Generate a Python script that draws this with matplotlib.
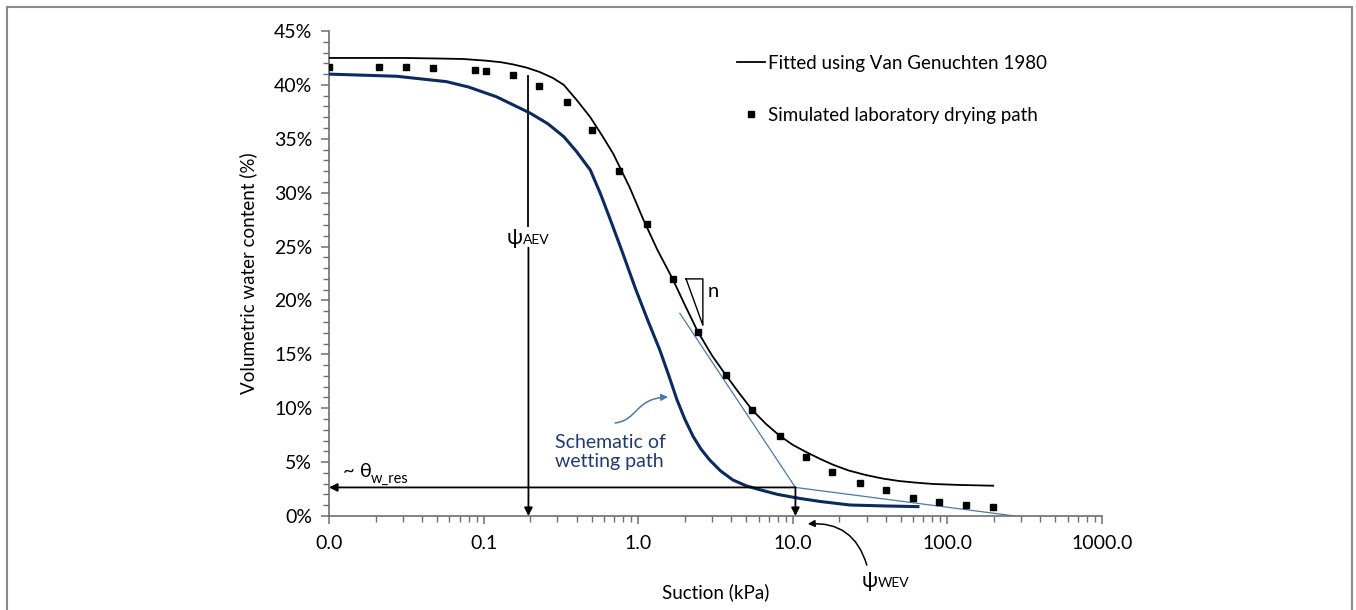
import matplotlib
matplotlib.use("Agg")
import matplotlib.pyplot as plt
from matplotlib.lines import Line2D
from matplotlib.patches import FancyArrowPatch, Rectangle
from matplotlib.path import Path
from matplotlib.ticker import FixedLocator, FuncFormatter, MultipleLocator, LogLocator, NullFormatter

plt.rcParams['font.family'] = ['Lato', 'DejaVu Sans']

# simulated laboratory drying path (suction kPa, volumetric water content %)
suction_lab = [0.01, 0.0211, 0.0315, 0.0473, 0.0884, 0.103, 0.155, 0.229, 0.344, 0.505,
               0.751, 1.135, 1.67, 2.43, 3.68, 5.47, 8.26, 12.1, 18.0, 27.2,
               40.1, 60.2, 88.7, 131, 198]
theta_lab = [41.7, 41.7, 41.7, 41.6, 41.4, 41.3, 40.9, 39.9, 38.4, 35.8,
             32.0, 27.1, 22.0, 17.1, 13.1, 9.8, 7.4, 5.5, 4.1, 3.1,
             2.4, 1.7, 1.3, 1.0, 0.8]

# Van Genuchten fit
suction_fit = [0.01, 0.03, 0.05, 0.074, 0.103, 0.13, 0.155, 0.19, 0.23, 0.28, 0.33, 0.40,
               0.49, 0.59, 0.69, 0.88, 1.08, 1.33, 1.67, 2.0, 2.43, 3.0, 3.68, 4.5,
               5.47, 6.7, 8.26, 10.0, 12.1, 15.0, 18.4, 23.0, 29.7, 38.0, 48.4, 62.0,
               81, 120, 198]
theta_fit = [42.5, 42.5, 42.45, 42.4, 42.25, 42.1, 41.9, 41.6, 41.2, 40.65, 40.0, 38.6,
             37.0, 35.2, 33.6, 30.5, 27.5, 24.7, 22.0, 19.6, 17.1, 14.9, 13.1, 11.4,
             9.83, 8.55, 7.42, 6.6, 5.96, 5.3, 4.73, 4.22, 3.8, 3.48, 3.25, 3.1,
             2.97, 2.88, 2.81]

# schematic wetting path
suction_wet = [0.01, 0.0274, 0.0576, 0.08, 0.121, 0.199, 0.26, 0.33, 0.40, 0.49, 0.57,
               0.66, 0.78, 0.96, 1.15, 1.38, 1.58, 1.78, 2.0, 2.27, 2.55, 2.9, 3.4,
               4.1, 5.0, 6.0, 8.0, 11.0, 15.0, 23.4, 40.0, 64.5]
theta_wet = [41.0, 40.8, 40.3, 39.8, 38.9, 37.4, 36.4, 35.2, 33.8, 32.1, 29.9,
             27.5, 24.7, 21.1, 18.2, 15.4, 13.0, 10.8, 9.0, 7.36, 6.2, 5.2, 4.2,
             3.34, 2.8, 2.47, 2.0, 1.64, 1.35, 1.02, 0.93, 0.87]

# construction lines
tangent_x = [1.86, 10.4]
tangent_y = [18.8, 2.65]
residual_x = [10.4, 273]
residual_y = [2.65, 0.0]
psi_aev = 0.195
psi_wev = 10.4
theta_res = 2.65

x_ticks = [0.01, 0.1, 1, 10, 100, 1000]
x_tick_labels = ["0.0", "0.1", "1.0", "10.0", "100.0", "1000.0"]

navy = "#0b2a5e"
thin_blue = "#4a78ad"
axis_grey = "#6e6e6e"

fig = plt.figure(figsize=(13.56, 6.10), dpi=100)
fig.patches.append(Rectangle((7 / 1356, -0.05), 1345 / 1356, 1.05 - 7 / 610,
                             transform=fig.transFigure, fill=False,
                             edgecolor="#8a8a8a", lw=1.5))
ax = fig.add_axes([329 / 1356, 94 / 610, 773 / 1356, 485 / 610])

ax.plot(suction_fit, theta_fit, color="black", lw=1.3, zorder=3)
ax.plot(suction_lab, theta_lab, "s", color="black", ms=5, zorder=4)
ax.plot(suction_wet, theta_wet, color=navy, lw=2.2, zorder=3)
ax.plot(tangent_x, tangent_y, color=thin_blue, lw=0.9, zorder=2)
ax.plot(residual_x, residual_y, color=thin_blue, lw=0.9, zorder=2)

ax.set_xscale("log")
ax.set_xlim(0.01, 1000)
ax.set_ylim(0, 45)

# arrows
arrow = dict(arrowstyle="-|>", color="black", lw=1.3, mutation_scale=12, shrinkA=0, shrinkB=0)
ax.annotate("", xy=(0.01, theta_res), xytext=(psi_wev, theta_res), arrowprops=arrow)
ax.annotate("", xy=(psi_wev, 0), xytext=(psi_wev, theta_res), arrowprops=arrow)
ax.plot([psi_aev, psi_aev], [40.8, 26.9], color="black", lw=1.3)
ax.annotate("", xy=(psi_aev, 0), xytext=(psi_aev, 24.9), arrowprops=arrow)

ax.text(0.178, 25.2, "ψ", ha="right", va="baseline", fontsize=15)
ax.text(0.179, 25.2, "AEV", ha="left", va="baseline", fontsize=10)

ax.text(0.0123, 3.62, "~ θ", ha="left", va="baseline", fontsize=14.5)
ax.text(0.0187, 3.05, "w_res", ha="left", va="baseline", fontsize=10.5)

ax.text(35.3, -6.6, "ψ", ha="right", va="baseline", fontsize=15, clip_on=False)
ax.text(35.5, -6.6, "WEV", ha="left", va="baseline", fontsize=10, clip_on=False)
ax.annotate("", xy=(12.5, -0.74), xytext=(30.1, -4.55), annotation_clip=False,
            arrowprops=dict(arrowstyle="-|>", color="black", lw=1.1, mutation_scale=10,
                            shrinkA=0, shrinkB=0, connectionstyle="arc3,rad=0.4"))

# slope triangle
ax.plot([2.04, 2.62, 2.62, 2.04], [22.0, 22.0, 17.7, 22.0], color="black", lw=1.0)
ax.text(3.05, 20.8, "n", ha="center", va="center", fontsize=14.5)

# wetting path label and its arrow
ax.text(0.29, 4.55, "Schematic of\nwetting path", color="#1f3b73", fontsize=14,
        ha="left", va="baseline", linespacing=1.15)
s_path = Path([(0.708, 8.63), (1.0, 8.9), (0.95, 10.9), (1.56, 11.04)],
              [Path.MOVETO, Path.CURVE4, Path.CURVE4, Path.CURVE4])
ax.add_patch(FancyArrowPatch(path=s_path, arrowstyle="-|>", color=thin_blue, lw=1.1,
                             mutation_scale=10, transform=ax.transData))

# axes styling
for side in ["top", "right"]:
    ax.spines[side].set_visible(False)
for side in ["left", "bottom"]:
    ax.spines[side].set_color(axis_grey)
    ax.spines[side].set_linewidth(1.2)

ax.xaxis.set_major_locator(FixedLocator(x_ticks))
ax.set_xticklabels(x_tick_labels)
ax.xaxis.set_minor_locator(LogLocator(base=10, subs=range(2, 10), numticks=20))
ax.xaxis.set_minor_formatter(NullFormatter())
ax.yaxis.set_major_locator(MultipleLocator(5))
ax.yaxis.set_minor_locator(MultipleLocator(1))
ax.yaxis.set_major_formatter(FuncFormatter(lambda v, p: f"{v:.0f}%"))
ax.tick_params(which="major", direction="out", length=6, width=1.1, color=axis_grey,
               labelsize=14, pad=6)
ax.tick_params(which="minor", direction="out", length=4, width=1.0, color=axis_grey)
ax.tick_params(axis="x", pad=8)

ax.set_xlabel("Suction (kPa)", fontsize=13.5, labelpad=22)
ax.set_ylabel("Volumetric water content (%)", fontsize=13.5, labelpad=12)

handles = [Line2D([], [], color="black", lw=1.3),
           Line2D([], [], color="black", marker="s", ms=5, ls="none")]
ax.legend(handles, ["Fitted using Van Genuchten 1980", "Simulated laboratory drying path"],
          loc="upper left", bbox_to_anchor=(737 / 1356, 1 - 55 / 610),
          bbox_transform=fig.transFigure, frameon=False, fontsize=13.5,
          handlelength=1.5, handletextpad=0.15, labelspacing=1.85, borderpad=0,
          borderaxespad=0)

fig.savefig("out.png", dpi=100)
